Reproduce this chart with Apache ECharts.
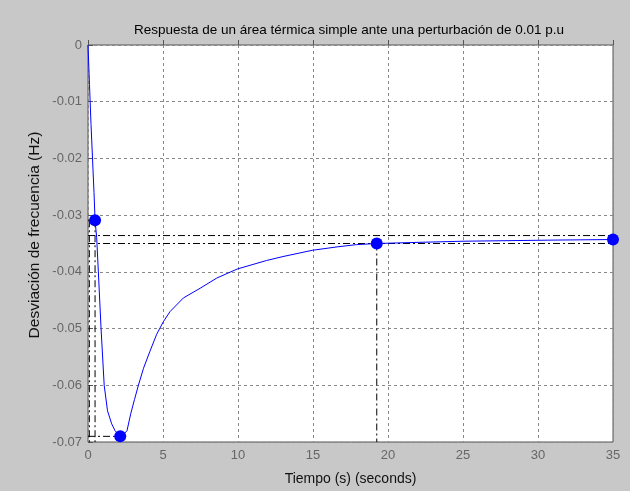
<!DOCTYPE html>
<html><head><meta charset="utf-8">
<script src="https://cdn.jsdelivr.net/npm/echarts@6/dist/echarts.min.js"></script>
<style>html,body{margin:0;padding:0;background:#c8c8c8;}#c{width:630px;height:491px;}</style>
</head><body><div id="c"></div>
<script>
// Step response data (time s, frequency deviation Hz)
const timeS = [0,0.1,0.2,0.3,0.4,0.47,0.58,0.69,0.87,1.08,1.3,1.58,1.8,2.15,2.4,2.6,2.85,3.1,3.36,3.7,4.13,4.58,5.02,5.47,6.36,7.47,8.58,9.95,11.9,13,14.95,16.6,17.9,19.25,22,25,28,31,35];
const devHz = [0,-0.007,-0.014,-0.020,-0.026,-0.0309,-0.034,-0.040,-0.050,-0.060,-0.0645,-0.0668,-0.068,-0.069,-0.0686,-0.068,-0.065,-0.0625,-0.060,-0.057,-0.054,-0.051,-0.0488,-0.047,-0.0446,-0.0429,-0.0411,-0.0395,-0.038,-0.0373,-0.0362,-0.0356,-0.0352,-0.035,-0.0348,-0.0346,-0.0345,-0.0344,-0.0343];
// Characteristic points: rise time, peak, settling time, steady state
const charT = [0.47, 2.15, 19.25, 35];
const charV = [-0.0309, -0.069, -0.035, -0.0343];
// Reference lines (settling band, rise, peak, settling)
const bandUpper = -0.0336, bandLower = -0.0350;
const riseStartT = 0.09;
const xTicks = {min:0, max:35, step:5};
const yTicks = {min:-0.07, max:0, step:0.01};

const refLines = [
  [[0,bandUpper],[35,bandUpper]],
  [[0,bandLower],[35,bandLower]],
  [[riseStartT,charV[0]],[riseStartT,yTicks.min]],
  [[charT[0],charV[0]],[charT[0],yTicks.min]],
  [[0,charV[0]],[charT[0],charV[0]]],
  [[0,charV[1]],[charT[1],charV[1]]],
  [[charT[1],charV[1]],[charT[1],yTicks.min]],
  [[charT[2],charV[2]],[charT[2],yTicks.min]]
];

const chart = echarts.init(document.getElementById('c'));
const series = refLines.map(d => ({
  type:'line', data:d, symbol:'none', silent:true,
  lineStyle:{color:'#000', width:1, type:[7,3,2,3]}, z:2
}));
series.push({
  type:'line', data:timeS.map((t,i)=>[t,devHz[i]]), symbol:'none',
  lineStyle:{color:'#0000ff', width:1}, z:3
});
series.push({
  type:'scatter', data:charT.map((t,i)=>[t,charV[i]]), symbolSize:12,
  itemStyle:{color:'#0000ff', opacity:1}, z:4
});
const fmtY = v => { const r = Math.round(v*100)/100; return r===0 ? '0' : r.toFixed(2); };
const FF = 'Liberation Sans, Arial';
chart.setOption({
  backgroundColor:'#c8c8c8',
  animation:false,
  title:{text:'Respuesta de un área térmica simple ante una perturbación de 0.01 p.u',
    left:344, top:18, textAlign:'center',
    textStyle:{fontFamily:FF, fontSize:13.5, fontWeight:'normal', color:'#000'}},
  graphic:[{type:'text', x:35, y:235, rotation:Math.PI/2,
    style:{text:'Desviación de frecuencia (Hz)', font:'15.5px "Liberation Sans", Arial', fill:'#111',
      textAlign:'center', textVerticalAlign:'middle'}}],
  grid:{left:88, right:17, top:45, bottom:47, show:true, backgroundColor:'#fff', borderColor:'#555', borderWidth:1},
  xAxis:{type:'value', min:xTicks.min, max:xTicks.max, interval:xTicks.step,
    name:'Tiempo (s) (seconds)', nameLocation:'middle', nameGap:30,
    nameTextStyle:{fontFamily:FF, fontSize:14, color:'#111'},
    axisLine:{show:false}, axisTick:{inside:true, length:5, lineStyle:{color:'#555'}},
    axisLabel:{fontFamily:FF, fontSize:13, color:'#666', margin:7},
    splitLine:{show:true, lineStyle:{color:'#888', type:[3,3], width:1}}},
  yAxis:{type:'value', min:yTicks.min, max:yTicks.max, interval:yTicks.step,
    axisLine:{show:false}, axisTick:{inside:true, length:5, lineStyle:{color:'#555'}},
    axisLabel:{fontFamily:FF, fontSize:13, color:'#666', margin:6, formatter:fmtY},
    splitLine:{show:true, lineStyle:{color:'#888', type:[3,3], width:1}}},
  series:series
});
</script></body></html>
